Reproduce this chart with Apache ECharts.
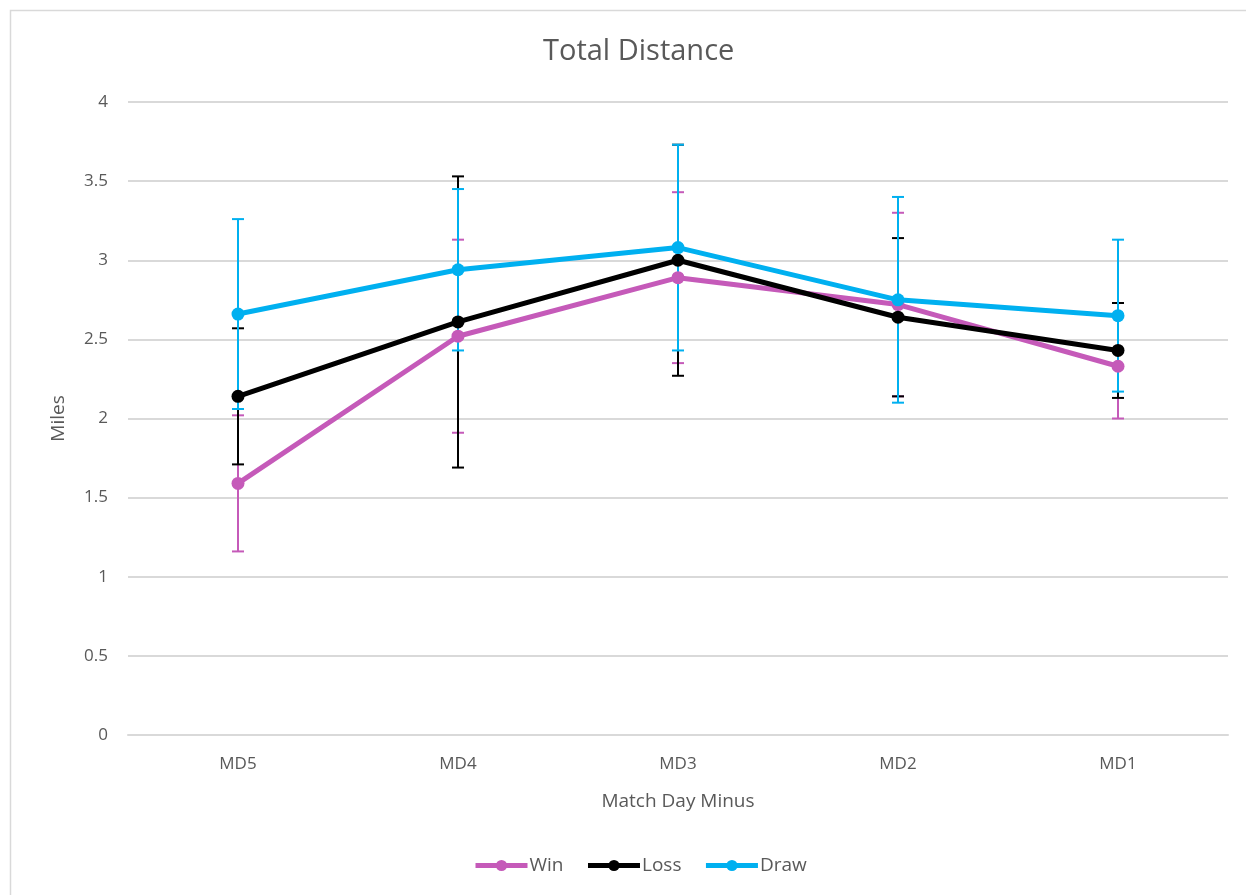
<!DOCTYPE html>
<html><head><meta charset="utf-8">
<script src="https://cdn.jsdelivr.net/npm/echarts@6/dist/echarts.min.js"></script>
<style>html,body{margin:0;padding:0;background:#fff}#c{width:1246px;height:895px}</style>
</head><body><div id="c"></div>
<script>
const categories = ['MD5','MD4','MD3','MD2','MD1'];
const winMean  = [1.59, 2.52, 2.89, 2.72, 2.33];
const winErr   = [0.43, 0.61, 0.54, 0.58, 0.33];
const lossMean = [2.14, 2.61, 3.00, 2.64, 2.43];
const lossErr  = [0.43, 0.92, 0.73, 0.50, 0.30];
const drawMean = [2.66, 2.94, 3.08, 2.75, 2.65];
const drawErr  = [0.60, 0.51, 0.65, 0.65, 0.48];
const yTicks = [0, 0.5, 1, 1.5, 2, 2.5, 3, 3.5, 4];

const colors = {Win:'#C55AB9', Loss:'#000000', Draw:'#00B0F0'};
const FONT = '"Open Sans", sans-serif';

function errSeries(name, means, errs, color){
  return {
    type:'custom', name: name+' err', z: 1, silent:true,
    data: means.map((m,i)=>[i, m-errs[i], m+errs[i]]),
    renderItem: function(params, api){
      const x = api.value(0);
      const lo = api.coord([x, api.value(1)]);
      const hi = api.coord([x, api.value(2)]);
      const hw = 6;
      const st = {stroke: color, lineWidth: 2};
      return {type:'group', children:[
        {type:'line', shape:{x1:lo[0],y1:lo[1],x2:hi[0],y2:hi[1]}, style:st},
        {type:'line', shape:{x1:lo[0]-hw,y1:lo[1],x2:lo[0]+hw,y2:lo[1]}, style:st},
        {type:'line', shape:{x1:hi[0]-hw,y1:hi[1],x2:hi[0]+hw,y2:hi[1]}, style:st}
      ]};
    }
  };
}
function lineSeries(name, means){
  return {
    type:'line', name:name, data:means, z: 5,
    symbol:'circle', symbolSize:13,
    lineStyle:{width:5, color:colors[name]},
    itemStyle:{color:colors[name]},
    emphasis:{disabled:true}
  };
}

const chart = echarts.init(document.getElementById('c'), null, {renderer:'canvas'});
chart.setOption({
  animation:false,
  backgroundColor:'#fff',
  graphic:[{type:'rect', shape:{x:10.5,y:10.5,width:1250,height:900}, style:{fill:'none', stroke:'#d9d9d9', lineWidth:1.5}, silent:true}],
  title:{text:'Total Distance', left:538, top:32,
    textStyle:{fontFamily:FONT, fontSize:29, fontWeight:'normal', color:'#595959'}},
  legend:{data:['Win','Loss','Draw'], bottom:15, left:468, itemWidth:52, itemHeight:14, itemGap:22,
    lineStyle:{width:5},
    textStyle:{fontFamily:FONT, fontSize:19, color:'#595959', padding:[0,0,0,-3]}
    },
  grid:{left:128, right:18, top:102, bottom:160},
  xAxis:{type:'category', data:categories, boundaryGap:true,
    axisLine:{lineStyle:{color:'#d9d9d9', width:2}}, axisTick:{show:false},
    axisLabel:{fontFamily:FONT, fontSize:17, color:'#595959', margin:21},
    name:'Match Day Minus', nameLocation:'middle', nameGap:57,
    nameTextStyle:{fontFamily:FONT, fontSize:19, color:'#595959'}},
  yAxis:{type:'value', min:0, max:4, interval:0.5,
    axisLine:{show:false}, axisTick:{show:false},
    splitLine:{lineStyle:{color:'#d9d9d9', width:2}},
    axisLabel:{fontFamily:FONT, fontSize:17, color:'#595959', margin:20,
      formatter:function(v){ return yTicks.indexOf(v)>=0 ? String(v) : ''; }},
    name:'Miles', nameLocation:'middle', nameGap:60, nameRotate:90,
    nameTextStyle:{fontFamily:FONT, fontSize:19, color:'#595959'}},
  series:[
    errSeries('Win', winMean, winErr, colors.Win),
    errSeries('Loss', lossMean, lossErr, colors.Loss),
    errSeries('Draw', drawMean, drawErr, colors.Draw),
    lineSeries('Win', winMean),
    lineSeries('Loss', lossMean),
    lineSeries('Draw', drawMean)
  ]
});
</script></body></html>
